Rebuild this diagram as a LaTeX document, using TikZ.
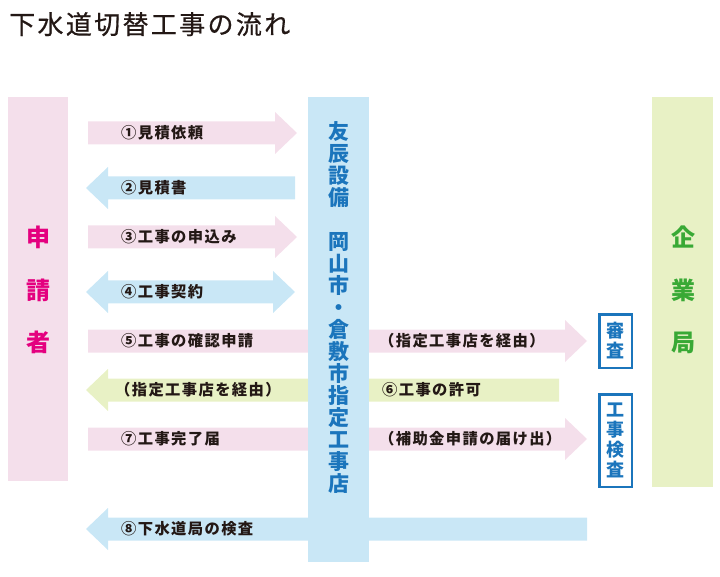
\documentclass[tikz,border=0pt]{standalone}
\usepackage{fontspec}
\usepackage{tikz}
\newfontfamily\jpfont[LetterSpace=8]{Noto Sans CJK JP}
\newfontfamily\jptitle[LetterSpace=9,FakeBold=0.6]{Noto Sans CJK JP}
\newfontfamily\jplabel[LetterSpace=9]{Noto Sans CJK JP}
\definecolor{ink}{HTML}{231815}
\definecolor{barpink}{HTML}{F4DFEB}
\definecolor{barblue}{HTML}{C9E7F6}
\definecolor{bargreen}{HTML}{E8F1C5}
\definecolor{agentblue}{HTML}{1B75BC}
\definecolor{applmagenta}{HTML}{E4007F}
\definecolor{bureaugreen}{HTML}{39A935}
\tikzstyle{bar}=[rectangle, inner sep=0pt, anchor=north west]
\tikzstyle{lbl}=[anchor=west, inner sep=0pt, text=ink, font=\jplabel\bfseries\fontsize{15.3}{15}\selectfont]
\tikzstyle{side}=[inner sep=0pt, align=center, font=\jpfont\bfseries\fontsize{24}{52.5}\selectfont]
\tikzstyle{checkbox}=[rectangle, draw=agentblue, line width=2.5pt, minimum width=32.5pt, inner sep=0pt,
        align=center, text=agentblue, font=\jpfont\bfseries\fontsize{18}{20}\selectfont]
% block arrows: from x #1 to x #2 at height #3
\newcommand{\flowright}[4]{\fill[#4] (#1,#3-11.5) -- (#2-22,#3-11.5) -- (#2-22,#3-21) -- (#2,#3)
  -- (#2-22,#3+21) -- (#2-22,#3+11.5) -- (#1,#3+11.5) -- cycle;}
\newcommand{\flowleft}[4]{\fill[#4] (#2,#3-11.5) -- (#1+22,#3-11.5) -- (#1+22,#3-21) -- (#1,#3)
  -- (#1+22,#3+21) -- (#1+22,#3+11.5) -- (#2,#3+11.5) -- cycle;}
\newcommand{\flowboth}[4]{\fill[#4] (#1,#3) -- (#1+22,#3-21) -- (#1+22,#3-11.5) -- (#2-22,#3-11.5)
  -- (#2-22,#3-21) -- (#2,#3) -- (#2-22,#3+21) -- (#2-22,#3+11.5) -- (#1+22,#3+11.5) -- (#1+22,#3+21) -- cycle;}

\begin{document}
\begin{tikzpicture}[x=1pt, y=-1pt]
\useasboundingbox (0,0) rectangle (720,577);
\node [anchor=base west, inner sep=0pt, text=ink, font=\jptitle\fontsize{26}{26}\selectfont] (title) at (9,34) {下水道切替工事の流れ};

% bars
\node [bar, fill=barpink, minimum width=60pt, minimum height=384pt] (applicant) at (8,97) {};
\node [bar, fill=bargreen, minimum width=61pt, minimum height=390pt] (bureau) at (652,97) {};

% arrows
\flowright{88}{297}{133}{barpink}
\flowleft{86}{295}{188}{barblue}
\flowright{88}{297}{237}{barpink}
\flowboth{86}{295}{292}{barblue}
\flowright{88}{587}{341}{barpink}
\flowleft{86}{559}{390}{bargreen}
\flowright{88}{587}{439}{barpink}
\flowleft{86}{587}{529}{barblue}

\node [bar, fill=barblue, minimum width=61pt, minimum height=465pt] (agent) at (308,97) {};

% texts
\node [side, text=applmagenta] (applicanttext) at (38,290) {申\\請\\者};
\node [side, text=bureaugreen] (bureautext) at (683,290) {企\\業\\局};
\node [inner sep=0pt, align=center, text=agentblue, font=\jpfont\bfseries\fontsize{21}{22}\selectfont] (agenttext) at (338.5,307.5)
  {友\\辰\\設\\備\\[22pt]岡\\山\\市\\・\\倉\\敷\\市\\指\\定\\工\\事\\店};

\node [lbl] (l1) at (121,133) {①見積依頼};
\node [lbl] (l2) at (121,188) {②見積書};
\node [lbl] (l3) at (121,237) {③工事の申込み};
\node [lbl] (l4) at (121,292) {④工事契約};
\node [lbl] (l5) at (121,341) {⑤工事の確認申請};
\node [lbl] (l5b) at (379,341) {（指定工事店を経由）};
\node [lbl] (l6) at (382,390) {⑥工事の許可};
\node [lbl] (l6b) at (115,390) {（指定工事店を経由）};
\node [lbl] (l7) at (121,439) {⑦工事完了届};
\node [lbl] (l7b) at (379,439) {（補助金申請の届け出）};
\node [lbl] (l8) at (121,529) {⑧下水道局の検査};

\node [checkbox, minimum height=53.5pt] (review) at (615.5,341) {審\\査};
\node [checkbox, minimum height=92.5pt] (inspection) at (615.5,440.5) {工\\事\\検\\査};
\end{tikzpicture}
\end{document}
